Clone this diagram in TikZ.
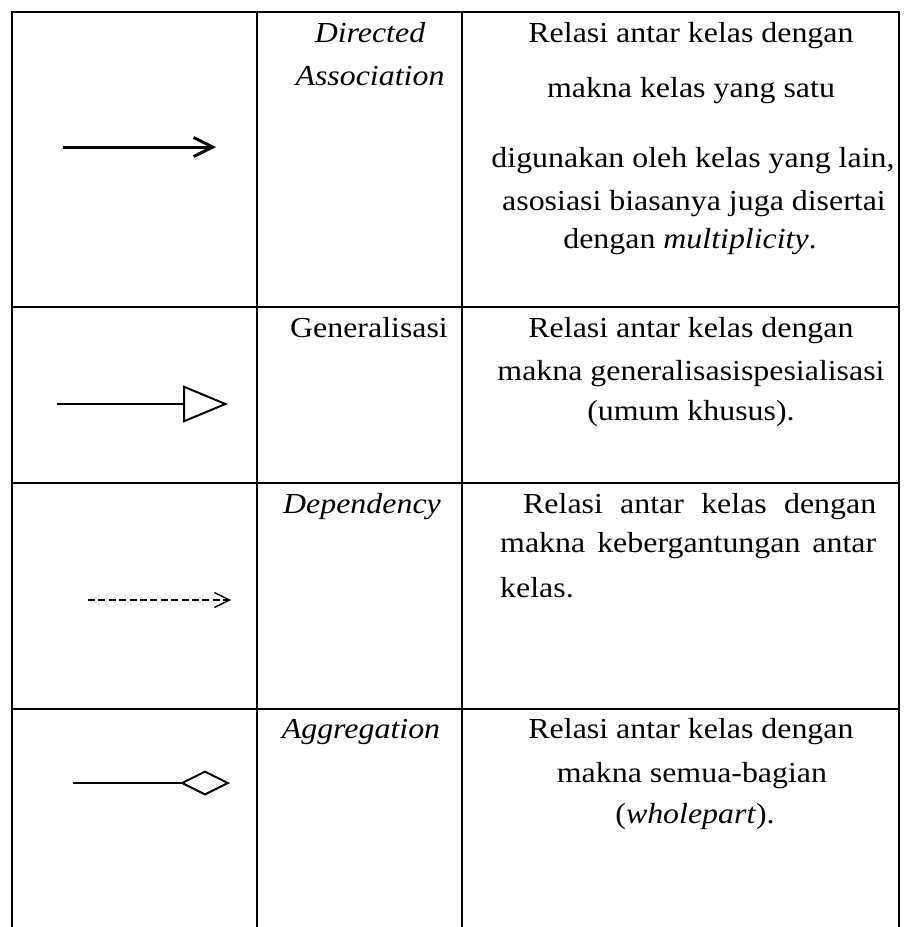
\documentclass[tikz,border=0pt]{standalone}
\usepackage{fontspec}
\setmainfont{Liberation Serif}[FakeStretch=1.1]
\usetikzlibrary{arrows.meta,positioning}

\begin{document}
\begin{tikzpicture}[
    x=1pt, y=-1pt,
    grid/.style={line width=2pt},
    txt/.style={anchor=base, inner sep=0pt, font=\fontsize{29}{35}\selectfont},
    term/.style={txt, font=\fontsize{29}{35}\selectfont\itshape},
    lft/.style={txt, anchor=base west},
    relline/.style={line width=2pt}
  ]
  \useasboundingbox (0,0) rectangle (903,927);

  % ---- Table grid ----
  \draw[grid] (12,927) -- (12,12) -- (899,12) -- (899,927);
  \draw[grid] (257,12) -- (257,927);
  \draw[grid] (462,12) -- (462,927);
  \foreach \y in {307,483,709}
    \draw[grid] (12,\y) -- (899,\y);

  % ---- Directed association ----
  \coordinate (da-s) at (63,147);
  \coordinate (da-e) at (216,147);
  \draw[relline, line width=3pt, -{Straight Barb[length=19pt,width=19pt]}] (da-s) -- (da-e);
  \node[term] (da-name1) at (370,42) {Directed};
  \node[term] (da-name2) at (370,85) {Association};
  \node[txt] (da-desc1) at (691,42)  {Relasi antar kelas dengan};
  \node[txt] (da-desc2) at (691,97)  {makna kelas yang satu};
  \node[txt] (da-desc3) at (693,167) {digunakan oleh kelas yang lain,};
  \node[txt] (da-desc4) at (694,210) {asosiasi biasanya juga disertai};
  \node[txt] (da-desc5) at (690,248) {dengan \textit{multiplicity}.};

  % ---- Generalisasi ----
  \coordinate (gen-s) at (57,404);
  \coordinate (gen-e) at (228,404);
  \draw[relline, -{Triangle[open,length=45pt,width=37pt]}] (gen-s) -- (gen-e);
  \node[txt] (gen-name) at (369,337) {Generalisasi};
  \node[txt] (gen-desc1) at (691,337) {Relasi antar kelas dengan};
  \node[txt] (gen-desc2) at (691,380) {makna generalisasispesialisasi};
  \node[txt] (gen-desc3) at (691,420) {(umum khusus).};

  % ---- Dependency ----
  \coordinate (dep-s) at (88,600);
  \coordinate (dep-e) at (231,600);
  \draw[line width=1.8pt, dash pattern=on 7pt off 3.4pt,
        -{Straight Barb[length=15pt,width=15pt,line width=1.4pt]}] (dep-s) -- (dep-e);
  \node[term] (dep-name) at (362,513) {Dependency};
  \node[lft] (dep-desc1) at (523,513) {\makebox[353pt][s]{Relasi antar kelas dengan}};
  \node[lft] (dep-desc2) at (500,552) {\makebox[376pt][s]{makna kebergantungan antar}};
  \node[lft] (dep-desc3) at (500,597) {kelas.};

  % ---- Aggregation ----
  \coordinate (agg-s) at (73,783);
  \coordinate (agg-e) at (230,783);
  \draw[relline, -{Diamond[open,length=50pt,width=25pt]}] (agg-s) -- (agg-e);
  \node[term] (agg-name) at (361,738) {Aggregation};
  \node[txt] (agg-desc1) at (691,738) {Relasi antar kelas dengan};
  \node[txt] (agg-desc2) at (692,782) {makna semua-bagian};
  \node[txt] (agg-desc3) at (695,823) {(\textit{wholepart}).};
\end{tikzpicture}
\end{document}
